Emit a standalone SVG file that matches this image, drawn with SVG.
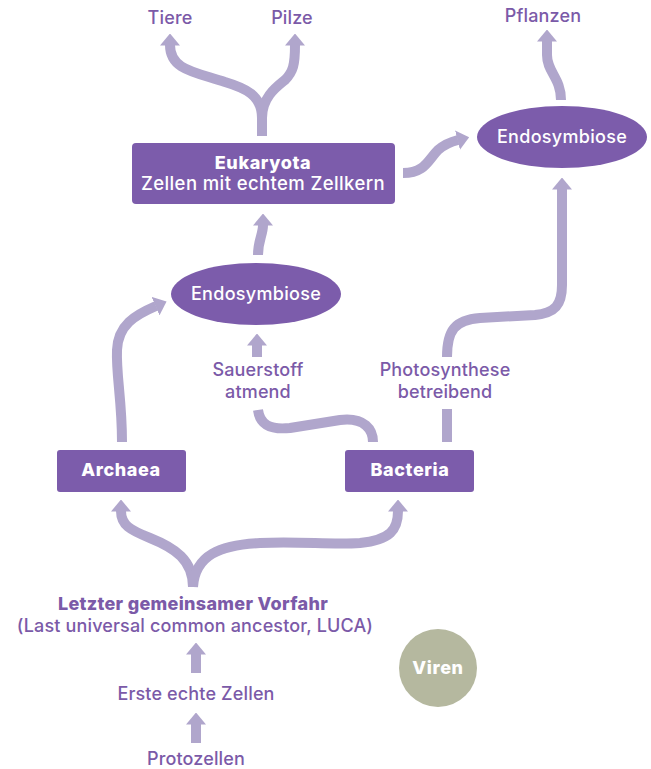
<svg xmlns="http://www.w3.org/2000/svg" width="651" height="769" viewBox="0 0 651 769">
<defs>
<marker id="ah" markerUnits="userSpaceOnUse" viewBox="0 0 12 20" refX="0.5" refY="10" markerWidth="12" markerHeight="20" orient="auto">
<path d="M0,0 L12,10 L0,20 z" fill="#b0a6cc"/>
</marker>
<style>
.c{fill:none;stroke:#b0a6cc;stroke-width:10;stroke-linecap:butt;stroke-linejoin:round}
.a{marker-end:url(#ah)}
.box{fill:#7c5cab}
.t{font-family:Inter,"Liberation Sans",sans-serif;font-size:18px;font-weight:500;letter-spacing:0.15px;fill:#7b5aa8;text-anchor:middle}
.w{font-family:Inter,"Liberation Sans",sans-serif;font-size:18px;font-weight:500;letter-spacing:0.3px;fill:#ffffff;text-anchor:middle}
.b{font-weight:800;letter-spacing:0.6px}
</style>
</defs>
<rect width="651" height="769" fill="#ffffff"/>
<g id="connectors">
<path class="c a" d="M262,136 L262,118 C262,95 245,88 225,82 C195,72 170,70 170,45"/>
<path class="c a" d="M262,118 C262,98 275,88 285,80 C293,72 295,65 295,45"/>
<path class="c a" d="M561,100 C561,78 547,72 547,55 L547,41"/>
<path class="c a" d="M403,173 C425,173 428,160 438,150 C445,144 450,142 458,140"/>
<path class="c a" d="M447,357 C447,330 455,320 480,318 L535,315 C555,313 562,305 562,285 L562,189"/>
<path class="c" d="M447,409 L447,442"/>
<path class="c a" d="M258,255 C258,240 263,235 263,225"/>
<path class="c a" d="M122,442 C122,400 116,375 117,350 C118,325 135,315 156,306"/>
<path class="c a" d="M257,357 L257,345"/>
<path class="c" d="M258,410 C260,425 270,430 290,428 L340,420 C365,417 373,430 373,442"/>
<path class="c a" d="M193,587 C193,560 175,548 150,538 C130,530 121,525 121,511"/>
<path class="c a" d="M193,587 C195,555 220,545 260,543 C300,541 330,545 360,543 C390,540 398,530 398,511"/>
<path class="c a" d="M196,673 L196,654"/>
<path class="c a" d="M196,743 L196,724"/>
</g>
<g id="tiere"><text class="t" x="170" y="24">Tiere</text></g>
<g id="pilze"><text class="t" x="292" y="24">Pilze</text></g>
<g id="pflanzen"><text class="t" x="543" y="22">Pflanzen</text></g>
<g id="eukaryota">
<rect class="box" x="132" y="143" width="263" height="61" rx="4"/>
<text class="w b" x="263" y="169">Eukaryota</text>
<text class="w" x="263" y="190" style="font-size:18.5px;letter-spacing:0.4px">Zellen mit echtem Zellkern</text>
</g>
<g id="endosymbiose-oben">
<ellipse class="box" cx="562" cy="137" rx="85" ry="31"/>
<text class="w" x="562" y="143">Endosymbiose</text>
</g>
<g id="endosymbiose-unten">
<ellipse class="box" cx="256" cy="294" rx="85" ry="31"/>
<text class="w" x="256" y="300">Endosymbiose</text>
</g>
<g id="sauerstoff">
<text class="t" x="258" y="376">Sauerstoff</text>
<text class="t" x="258" y="398">atmend</text>
</g>
<g id="photosynthese">
<text class="t" x="445" y="376">Photosynthese</text>
<text class="t" x="445" y="398">betreibend</text>
</g>
<g id="archaea">
<rect class="box" x="57" y="450" width="129" height="42" rx="3"/>
<text class="w b" x="121" y="476">Archaea</text>
</g>
<g id="bacteria">
<rect class="box" x="345" y="450" width="129" height="42" rx="3"/>
<text class="w b" x="410" y="476">Bacteria</text>
</g>
<g id="luca">
<text class="t b" x="193" y="610" style="letter-spacing:0.3px">Letzter gemeinsamer Vorfahr</text>
<text class="t" x="195" y="632">(Last universal common ancestor, LUCA)</text>
</g>
<g id="erste"><text class="t" x="196" y="700">Erste echte Zellen</text></g>
<g id="protozellen"><text class="t" x="196" y="765">Protozellen</text></g>
<g id="viren">
<circle cx="438" cy="668" r="39" fill="#b5b89f"/>
<text class="w b" x="438" y="674">Viren</text>
</g>
</svg>
